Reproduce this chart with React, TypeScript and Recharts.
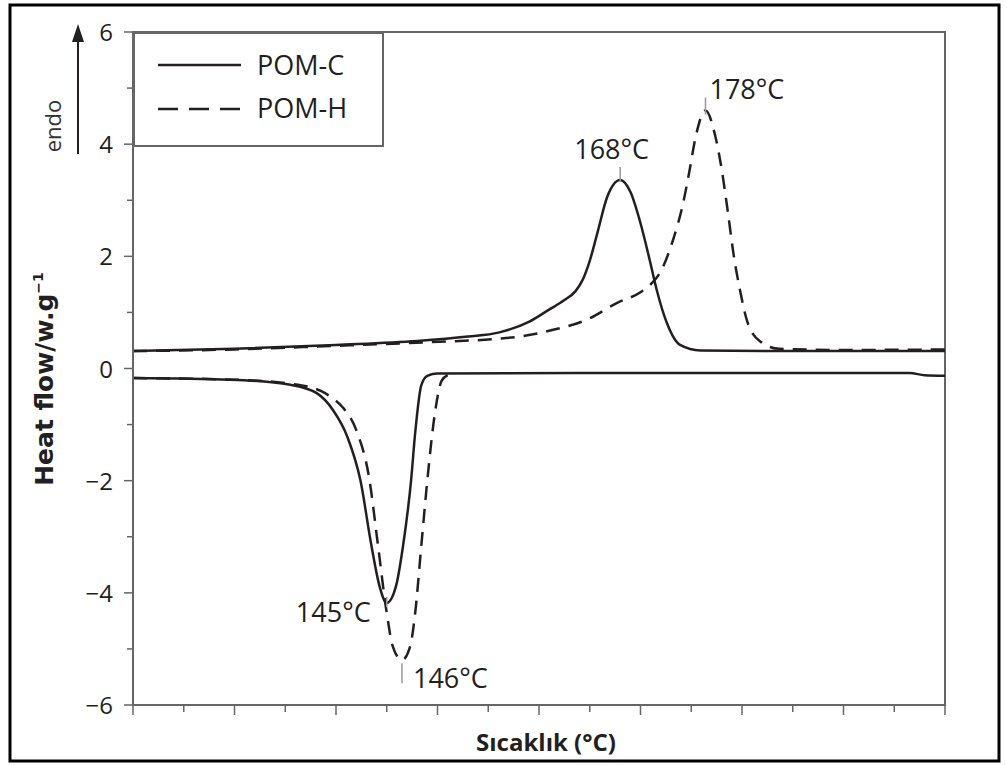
import React from "react";
import {
  LineChart,
  Line,
  XAxis,
  YAxis,
  Legend,
  ReferenceArea,
  ReferenceDot,
  Label,
} from "recharts";

// heat flow (W/g) against temperature (°C)
const pomCHeating = [
  { t: 120, v: 0.31 }, { t: 130, v: 0.35 }, { t: 140, v: 0.42 }, { t: 148, v: 0.49 },
  { t: 153, v: 0.57 }, { t: 156, v: 0.64 }, { t: 159, v: 0.83 }, { t: 161, v: 1.05 },
  { t: 162.5, v: 1.22 }, { t: 163.6, v: 1.38 }, { t: 164.3, v: 1.58 }, { t: 165, v: 1.92 },
  { t: 165.8, v: 2.45 }, { t: 166.7, v: 3.05 }, { t: 168, v: 3.36 }, { t: 169, v: 3.15 },
  { t: 170, v: 2.59 }, { t: 170.9, v: 1.94 }, { t: 171.6, v: 1.4 }, { t: 172.6, v: 0.81 },
  { t: 173.9, v: 0.42 }, { t: 175.9, v: 0.32 }, { t: 185, v: 0.31 }, { t: 200, v: 0.31 },
];

const pomHHeating = [
  { t: 120, v: 0.31 }, { t: 130, v: 0.34 }, { t: 139.4, v: 0.4 }, { t: 149.3, v: 0.47 },
  { t: 155.9, v: 0.53 }, { t: 158.1, v: 0.57 }, { t: 161.4, v: 0.69 }, { t: 164.7, v: 0.87 },
  { t: 167.7, v: 1.17 }, { t: 170, v: 1.36 }, { t: 171, v: 1.5 }, { t: 171.9, v: 1.7 },
  { t: 173.2, v: 2.29 }, { t: 174.2, v: 2.95 }, { t: 174.8, v: 3.5 }, { t: 175.4, v: 4.1 },
  { t: 176.4, v: 4.6 }, { t: 177.4, v: 4.12 }, { t: 178, v: 3.55 }, { t: 178.6, v: 2.8 },
  { t: 179.2, v: 2.0 }, { t: 179.8, v: 1.4 }, { t: 180.5, v: 0.85 }, { t: 181.8, v: 0.48 },
  { t: 183.7, v: 0.35 }, { t: 190, v: 0.33 }, { t: 200, v: 0.34 },
];

const pomCCooling = [
  { t: 120, v: -0.17 }, { t: 129.6, v: -0.2 }, { t: 135.5, v: -0.29 }, { t: 138.1, v: -0.44 },
  { t: 139.7, v: -0.74 }, { t: 141.1, v: -1.21 }, { t: 142.4, v: -1.99 }, { t: 143.5, v: -3.17 },
  { t: 144.3, v: -3.89 }, { t: 145, v: -4.18 }, { t: 145.9, v: -3.89 }, { t: 146.6, v: -3.17 },
  { t: 147.4, v: -1.99 }, { t: 147.8, v: -1.15 }, { t: 148.4, v: -0.3 }, { t: 149, v: -0.13 },
  { t: 150, v: -0.09 }, { t: 170, v: -0.08 }, { t: 196.5, v: -0.08 }, { t: 198, v: -0.12 },
  { t: 200, v: -0.13 },
];

const pomHCooling = [
  { t: 120, v: -0.17 }, { t: 130, v: -0.2 }, { t: 135.5, v: -0.27 }, { t: 138.5, v: -0.4 },
  { t: 139.6, v: -0.52 }, { t: 140.7, v: -0.7 }, { t: 142, v: -1.1 }, { t: 143.3, v: -1.99 },
  { t: 144.1, v: -3.1 }, { t: 145, v: -4.36 }, { t: 145.6, v: -4.96 }, { t: 146.5, v: -5.2 },
  { t: 147.3, v: -4.96 }, { t: 147.8, v: -4.36 }, { t: 148.4, v: -3.17 }, { t: 149, v: -1.99 },
  { t: 149.75, v: -0.79 }, { t: 150.4, v: -0.22 }, { t: 151, v: -0.12 },
];

const peakLabels = [
  { t: 168, v: 3.36, label: "168°C" },
  { t: 176.4, v: 4.6, label: "178°C" },
  { t: 145, v: -4.18, label: "145°C" },
  { t: 146.5, v: -5.2, label: "146°C" },
];

const yTicks = [-6, -5, -4, -3, -2, -1, 0, 1, 2, 3, 4, 5, 6];
const xTicks = [120, 125, 130, 135, 140, 145, 150, 155, 160, 165, 170, 175, 180, 185, 190, 195, 200];

const INK = "#231f20";
const AXIS = "#666";
const FONT = "'Open Sans', sans-serif";

// label placement for each peak note (offsets from the peak point)
const notePlacement: Record<string, any> = {
  "168°C": { dx: -46, dy: -21, anchor: "start", t1: -13, t2: 2 },
  "178°C": { dx: 4, dy: -12, anchor: "start", t1: -13, t2: 4 },
  "145°C": { dx: -16, dy: 19, anchor: "end", t1: -6, t2: 4 },
  "146°C": { dx: 11, dy: 28, anchor: "start", t1: 3, t2: 23 },
};

const YTick = (props: any) => {
  const { x, y, payload } = props;
  const major = payload.value % 2 === 0;
  return (
    <g>
      <line x1={x - (major ? 9 : 6)} x2={x} y1={y} y2={y} stroke={AXIS} strokeWidth={1.5} />
      {major && (
        <text x={x - 20} y={y + 9} textAnchor="end" fontSize={24} fontFamily={FONT} fill={INK}>
          {payload.value < 0 ? `\u2212${Math.abs(payload.value)}` : payload.value}
        </text>
      )}
    </g>
  );
};

const XTick = (props: any) => {
  const { x, y, payload } = props;
  const major = payload.value % 10 === 0;
  return <line x1={x} x2={x} y1={y} y2={y + (major ? 10 : 7)} stroke={AXIS} strokeWidth={1.5} />;
};

const PeakNote = (props: any) => {
  const { cx, cy, label } = props;
  const p = notePlacement[label];
  return (
    <g>
      <line x1={cx} x2={cx} y1={cy + p.t1} y2={cy + p.t2} stroke="#999" strokeWidth={1.5} />
      <text x={cx + p.dx} y={cy + p.dy} textAnchor={p.anchor} fontSize={27} fontFamily={FONT} fill={INK}>
        {label}
      </text>
    </g>
  );
};

const LegendBox = () => (
  <svg width={251} height={115} style={{ display: "block" }}>
    <rect x={1} y={1} width={249} height={113} fill="#fff" stroke={AXIS} strokeWidth={2} />
    <line x1={25} x2={108} y1={33} y2={33} stroke={INK} strokeWidth={2.5} />
    <text x={124} y={43} fontSize={27} fontFamily={FONT} fill={INK}>POM-C</text>
    <line x1={25} x2={108} y1={77} y2={77} stroke={INK} strokeWidth={2.5} strokeDasharray="20 11" />
    <text x={124} y={86} fontSize={27} fontFamily={FONT} fill={INK}>POM-H</text>
  </svg>
);

const YTitle = () => (
  <text
    x={53}
    y={379}
    transform="rotate(-90, 53, 379)"
    textAnchor="middle"
    fontSize={25}
    fontWeight="bold"
    fontFamily="'DejaVu Sans', sans-serif"
    fill={INK}
  >
    Heat flow/w.g
    <tspan dy={-10} fontSize={14}>−1</tspan>
  </text>
);

const XTitle = () => (
  <text x={546} y={751} textAnchor="middle" fontSize={24} fontWeight="bold" fontFamily={FONT} fill={INK}>
    Sıcaklık (°C)
  </text>
);

export default function App() {
  return (
    <div style={{ position: "absolute", left: 0, top: 0, width: 1007, height: 765, background: "#fff" }}>
      <LineChart width={1007} height={765} margin={{ top: 32, right: 62, bottom: 30, left: 73 }}>
        <XAxis
          type="number"
          dataKey="t"
          domain={[120, 200]}
          ticks={xTicks}
          interval={0}
          tickSize={0}
          tickMargin={0}
          tickLine={false}
          tick={<XTick />}
          axisLine={{ stroke: AXIS, strokeWidth: 2 }}
          height={30}
          allowDataOverflow
        >
          <Label content={<XTitle />} />
        </XAxis>
        <YAxis
          type="number"
          domain={[-6, 6]}
          ticks={yTicks}
          interval={0}
          tickSize={0}
          tickMargin={0}
          tickLine={false}
          tick={<YTick />}
          axisLine={{ stroke: AXIS, strokeWidth: 2 }}
          width={60}
          allowDataOverflow
        >
          <Label content={<YTitle />} />
        </YAxis>
        <ReferenceArea x1={120} x2={200} y1={-6} y2={6} fill="none" stroke={AXIS} strokeWidth={2} />
        <Line data={pomCHeating} dataKey="v" name="POM-C" type="monotone" stroke={INK} strokeWidth={2.5} dot={false} isAnimationActive={false} />
        <Line data={pomCCooling} dataKey="v" name="POM-C cooling" legendType="none" type="monotone" stroke={INK} strokeWidth={2.5} dot={false} isAnimationActive={false} />
        <Line data={pomHHeating} dataKey="v" name="POM-H" type="monotone" stroke={INK} strokeWidth={2.5} strokeDasharray="14 9" dot={false} isAnimationActive={false} />
        <Line data={pomHCooling} dataKey="v" name="POM-H cooling" legendType="none" type="monotone" stroke={INK} strokeWidth={2.5} strokeDasharray="14 9" dot={false} isAnimationActive={false} />
        {peakLabels.map((p) => (
          <ReferenceDot
            key={p.label}
            x={p.t}
            y={p.v}
            r={0}
            shape={(props: any) => <PeakNote {...props} label={p.label} />}
          />
        ))}
        <Legend
          layout="horizontal"
          verticalAlign="middle"
          align="center"
          content={<LegendBox />}
          wrapperStyle={{ left: 133, top: 32, width: 251, height: 115 }}
        />
      </LineChart>
      <svg
        width={1007}
        height={765}
        style={{ position: "absolute", left: 0, top: 0, pointerEvents: "none" }}
      >
        <rect x={10} y={5} width={989} height={756} fill="none" stroke="#000" strokeWidth={3} />
        <line x1={78} x2={78} y1={154} y2={38} stroke={INK} strokeWidth={2} />
        <polygon points="78,24 72,42 84,42" fill={INK} />
        <text
          x={61}
          y={126}
          transform="rotate(-90, 61, 126)"
          textAnchor="middle"
          fontSize={22}
          fontFamily={FONT}
          fill="#333"
        >
          endo
        </text>
      </svg>
    </div>
  );
}
